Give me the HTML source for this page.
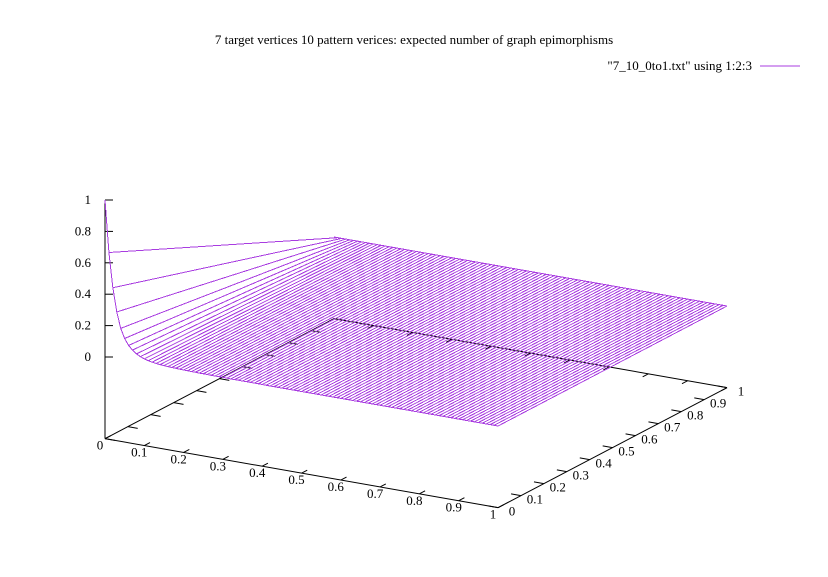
<!DOCTYPE html>
<html><head><meta charset="utf-8"><style>
html,body{margin:0;padding:0;background:#fff;}
svg{display:block;font-family:"Liberation Serif",serif;font-size:13px;}
</style></head><body>
<svg id="chart" width="828" height="577" viewBox="0 0 828 577">
<rect width="828" height="577" fill="#fff"/>
<text x="414" y="44" text-anchor="middle">7 target vertices 10 pattern verices: expected number of graph epimorphisms</text>
<g>
<text x="752" y="70" text-anchor="end">"7_10_0to1.txt" using 1:2:3</text>
<line x1="760" y1="66" x2="800" y2="66" stroke="#a83ce0" stroke-width="1"/>
</g>
<g id="axes"></g>
<g id="surface" shape-rendering="crispEdges"></g>
</svg>
<script>
const xTicks=[0,0.1,0.2,0.3,0.4,0.5,0.6,0.7,0.8,0.9,1];
const xTickLabels=["0","0.1","0.2","0.3","0.4","0.5","0.6","0.7","0.8","0.9","1"];
const yTicks=[0,0.1,0.2,0.3,0.4,0.5,0.6,0.7,0.8,0.9,1];
const yTickLabels=["0","0.1","0.2","0.3","0.4","0.5","0.6","0.7","0.8","0.9","1"];
const zTicks=[0,0.2,0.4,0.6,0.8,1];
const zTickLabels=["0","0.2","0.4","0.6","0.8","1"];
// surface: value at y=0 and y=1 for x = 0,0.01,...,1
const zAtY0=[1,0.67,0.45,0.30,0.20,0.14,0.10,0.075,0.055,0.042,0.032,
0.025,0.020,0.016,0.013,0.011,0.009,0.008,0.007,0.006,0.005,
0.005,0.004,0.004,0.003,0.003,0.003,0.002,0.002,0.002,0.002,
0.002,0.001,0.001,0.001,0.001,0.001,0.001,0.001,0.001,0.001,
0,0,0,0,0,0,0,0,0,0,
0,0,0,0,0,0,0,0,0,0,
0,0,0,0,0,0,0,0,0,0,
0,0,0,0,0,0,0,0,0,0,
0,0,0,0,0,0,0,0,0,0,
0,0,0,0,0,0,0,0,0,0];
const zAtY1=[0,0,0,0,0,0,0,0,0,0,0,
0,0,0,0,0,0,0,0,0,0,
0,0,0,0,0,0,0,0,0,0,
0,0,0,0,0,0,0,0,0,0,
0,0,0,0,0,0,0,0,0,0,
0,0,0,0,0,0,0,0,0,0,
0,0,0,0,0,0,0,0,0,0,
0,0,0,0,0,0,0,0,0,0,
0,0,0,0,0,0,0,0,0,0,
0,0,0,0,0,0,0,0,0,0];

const NS="http://www.w3.org/2000/svg";
const O={x:105,y:357}, VX={x:393,y:69}, VY={x:229,y:-120}, ZS=157, ZBASE=-0.52;
function P(x,y,z){return [O.x+x*VX.x+y*VY.x, O.y+x*VX.y+y*VY.y-z*ZS];}
const axes=document.getElementById('axes'), surf=document.getElementById('surface');
function line(g,a,b,name,color){
  const l=document.createElementNS(NS,'line');
  l.setAttribute('x1',a[0]);l.setAttribute('y1',a[1]);l.setAttribute('x2',b[0]);l.setAttribute('y2',b[1]);
  l.setAttribute('stroke',color||'#000');l.setAttribute('stroke-width','1');
  
  
  g.appendChild(l);
}
function text(g,x,y,s,anchor,name){
  const t=document.createElementNS(NS,'text');
  t.setAttribute('x',x);t.setAttribute('y',y);t.setAttribute('text-anchor',anchor);t.textContent=s;
  
  
  g.appendChild(t);
}
const B=ZBASE;
line(axes,P(0,0,B),P(1,0,B),'x-axis');
line(axes,P(1,0,B),P(1,1,B),'y-axis');
line(axes,P(0,1,B),P(1,1,B),'back-x-edge');
line(axes,P(0,0,B),P(0,1,B),'back-y-edge');
line(axes,P(0,0,B),P(0,0,1),'z-axis');
xTicks.forEach((v,i)=>{
  line(axes,P(v,0,B),P(v,0.025,B),'x-tick');
  line(axes,P(v,1,B),P(v,0.975,B),'x-mirror-tick');
  const p=P(v,0,B);
  text(axes,p[0]-5,p[1]+11,xTickLabels[i],'middle','x-tick-label');
});
yTicks.forEach((v,i)=>{
  line(axes,P(1,v,B),P(0.975,v,B),'y-tick');
  line(axes,P(0,v,B),P(0.025,v,B),'y-mirror-tick');
  const p=P(1,v,B);
  text(axes,p[0]+14,p[1]+8,yTickLabels[i],'middle','y-tick-label');
});
zTicks.forEach((v,i)=>{
  const p=P(0,0,v);
  line(axes,p,[p[0]+8,p[1]],'z-tick');
  text(axes,p[0]-14,p[1]+4,zTickLabels[i],'end','z-tick-label');
});
const C='#a83ce0';
function poly(pts,name){
  const pl=document.createElementNS(NS,'polyline');
  pl.setAttribute('points',pts.map(p=>p.join(',')).join(' '));
  pl.setAttribute('fill','none');pl.setAttribute('stroke',C);pl.setAttribute('stroke-width','1');
  
  
  surf.appendChild(pl);
}
const n=zAtY0.length;
for(let i=1;i<n;i++){
  const x=i/(n-1);
  poly([P(x,0,zAtY0[i]),P(x,1,zAtY1[i])],'surface-isoline');
}
poly(zAtY0.map((z,i)=>P(i/(n-1),0,z)),'surface-edge-y0');
poly(zAtY1.map((z,i)=>P(i/(n-1),1,z)),'surface-edge-y1');
</script>
</body></html>
